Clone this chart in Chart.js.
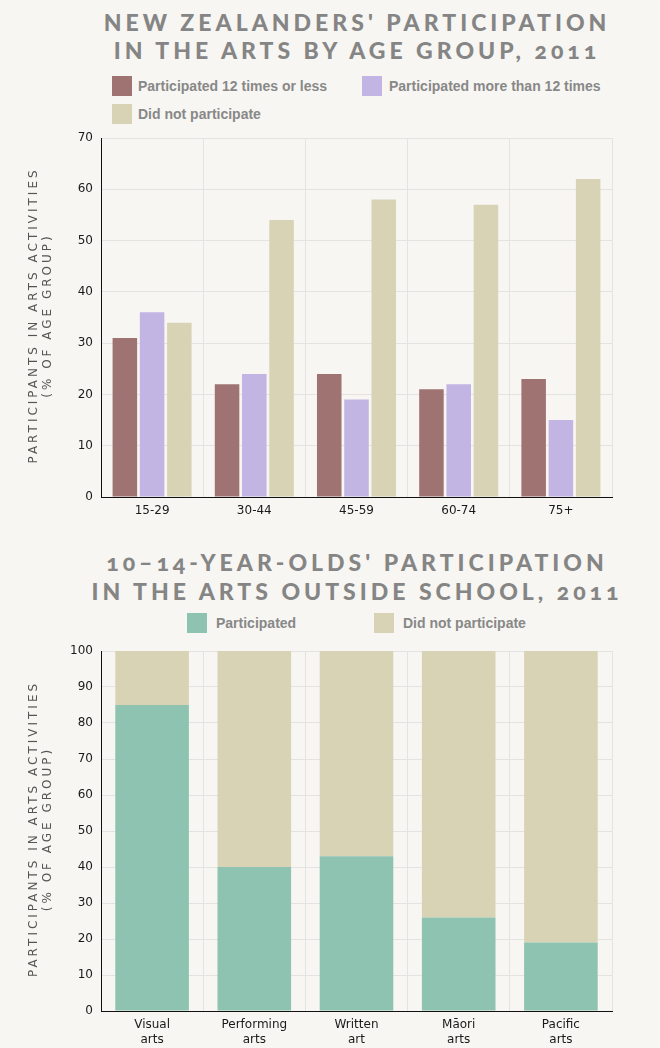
<!DOCTYPE html>
<html><head><meta charset="utf-8">
<script src="https://cdn.jsdelivr.net/npm/chart.js@4.4.1/dist/chart.umd.min.js"></script>
<style>
html,body{margin:0;padding:0;background:#f7f6f2;}
body{width:660px;height:1048px;position:relative;overflow:hidden;}
.title{position:absolute;left:0;width:660px;box-sizing:border-box;padding-left:54px;text-align:center;
 font-family:Lato,"Open Sans",sans-serif;font-weight:900;font-size:23px;letter-spacing:4px;color:#858585;
 line-height:28px;font-variant-numeric:oldstyle-nums;font-feature-settings:"onum" 1;white-space:nowrap;}
.lg{position:absolute;font-family:"Liberation Sans",Arial,sans-serif;font-weight:bold;font-size:14px;color:#888;line-height:20px;white-space:nowrap;}
.sw{position:absolute;width:20px;height:20px;}
canvas{position:absolute;left:0;}
</style></head>
<body>
<div class="title" style="top:8px">NEW ZEALANDERS' PARTICIPATION<br>IN THE ARTS BY AGE GROUP, 2011</div>
<div id="lgTop"></div>
<div style="position:absolute;left:0;top:130px;width:660px;height:400px"><canvas id="c1" width="660" height="400"></canvas></div>

<div class="title" style="top:548px;line-height:29px">10–14-YEAR-OLDS' PARTICIPATION<br>IN THE ARTS OUTSIDE SCHOOL, 2011</div>
<div id="lgBot"></div>
<div style="position:absolute;left:0;top:640px;width:660px;height:408px"><canvas id="c2" width="660" height="408"></canvas></div>

<script>
// ---- data ----
const ageGroups = ['15-29', '30-44', '45-59', '60-74', '75+'];
const partLess12 = [31, 22, 24, 21, 23];
const partMore12 = [36, 24, 19, 22, 15];
const didNotAge = [34, 54, 58, 57, 62];
const ageYTicks = [0, 10, 20, 30, 40, 50, 60, 70];

const artForms = [['Visual', 'arts'], ['Performing', 'arts'], ['Written', 'art'], ['Māori', 'arts'], ['Pacific', 'arts']];
const participated = [85, 40, 43, 26, 19];
const didNotYouth = [15, 60, 57, 74, 81];
const youthYTicks = [0, 10, 20, 30, 40, 50, 60, 70, 80, 90, 100];

const seriesNamesTop = ['Participated 12 times or less', 'Participated more than 12 times', 'Did not participate'];
const seriesNamesBot = ['Participated', 'Did not participate'];
const yTitle = ['PARTICIPANTS IN ARTS ACTIVITIES', '(% OF AGE GROUP)'];

const C_MAUVE = '#9e7372', C_LAV = '#c2b4e3', C_BEIGE = '#d8d3b5', C_TEAL = '#8ec2b1';

// ---- HTML legends ----
function legendItem(parent, color, text, boxX, textX, y) {
  const s = document.createElement('div'); s.className = 'sw';
  s.style.left = boxX + 'px'; s.style.top = y + 'px'; s.style.background = color;
  const t = document.createElement('div'); t.className = 'lg';
  t.style.left = textX + 'px'; t.style.top = y + 'px'; t.textContent = text;
  parent.appendChild(s); parent.appendChild(t);
}
const lt = document.getElementById('lgTop');
legendItem(lt, C_MAUVE, seriesNamesTop[0], 112, 138, 76);
legendItem(lt, C_LAV, seriesNamesTop[1], 362, 389, 76);
legendItem(lt, C_BEIGE, seriesNamesTop[2], 112, 138, 104);
const lb = document.getElementById('lgBot');
legendItem(lb, C_TEAL, seriesNamesBot[0], 187, 216, 613);
legendItem(lb, C_BEIGE, seriesNamesBot[1], 374, 403, 613);

// ---- y title plugin ----
const yTitlePlugin = {
  id: 'ytitle',
  afterDraw(chart) {
    const ctx = chart.ctx, a = chart.chartArea;
    ctx.save();
    ctx.translate(0, (a.top + a.bottom) / 2);
    ctx.rotate(-Math.PI / 2);
    ctx.font = '12px "DejaVu Sans"';
    ctx.fillStyle = '#555';
    ctx.textAlign = 'center';
    ctx.textBaseline = 'middle';
    try { ctx.letterSpacing = '3px'; } catch (e) {}
    ctx.fillText(yTitle[0], 2, 34);
    ctx.fillText(yTitle[1], 2, 48);
    ctx.restore();
  }
};

Chart.defaults.font.family = '"DejaVu Sans", Verdana, sans-serif';
Chart.defaults.font.size = 12;
Chart.defaults.color = '#222';
Chart.defaults.animation = false;

function scales(max, ticksArr, xH) {
  return {
    x: {
      grid: { color: '#e4e3e1', drawTicks: false, offset: true },
      border: { color: '#111', width: 1 },
      ticks: { padding: 7, color: '#1a1a1a', font: { size: 12 } },
      afterFit: s => { s.height = xH; s.paddingLeft = 0; s.paddingRight = 0; }
    },
    y: {
      min: 0, max: max,
      afterBuildTicks: s => { s.ticks = ticksArr.map(v => ({ value: v })); },
      grid: { color: '#e4e3e1', drawTicks: false },
      border: { color: '#111', width: 1 },
      ticks: { padding: 8, color: '#1a1a1a', font: { size: 12 } },
      afterFit: s => { s.width = 101; s.paddingTop = 0; s.paddingBottom = 0; }
    }
  };
}

new Chart(document.getElementById('c1'), {
  type: 'bar',
  data: {
    labels: ageGroups,
    datasets: [
      { label: seriesNamesTop[0], data: partLess12, backgroundColor: C_MAUVE },
      { label: seriesNamesTop[1], data: partMore12, backgroundColor: C_LAV },
      { label: seriesNamesTop[2], data: didNotAge, backgroundColor: C_BEIGE }
    ]
  },
  options: {
    responsive: false,
    layout: { padding: { left: 0, right: 48, top: 8, bottom: 0 } },
    plugins: { legend: { display: false }, tooltip: { enabled: false } },
    scales: scales(70, ageYTicks, 33)
  },
  plugins: [yTitlePlugin]
});

new Chart(document.getElementById('c2'), {
  type: 'bar',
  data: {
    labels: artForms,
    datasets: [
      { label: seriesNamesBot[0], data: participated, backgroundColor: C_TEAL },
      { label: seriesNamesBot[1], data: didNotYouth, backgroundColor: C_BEIGE }
    ]
  },
  options: {
    responsive: false,
    layout: { padding: { left: 0, right: 48, top: 11, bottom: 0 } },
    plugins: { legend: { display: false }, tooltip: { enabled: false } },
    scales: (() => { const s = scales(100, youthYTicks, 37); s.x.stacked = true; s.y.stacked = true; return s; })()
  },
  plugins: [yTitlePlugin]
});
</script>
</body></html>
